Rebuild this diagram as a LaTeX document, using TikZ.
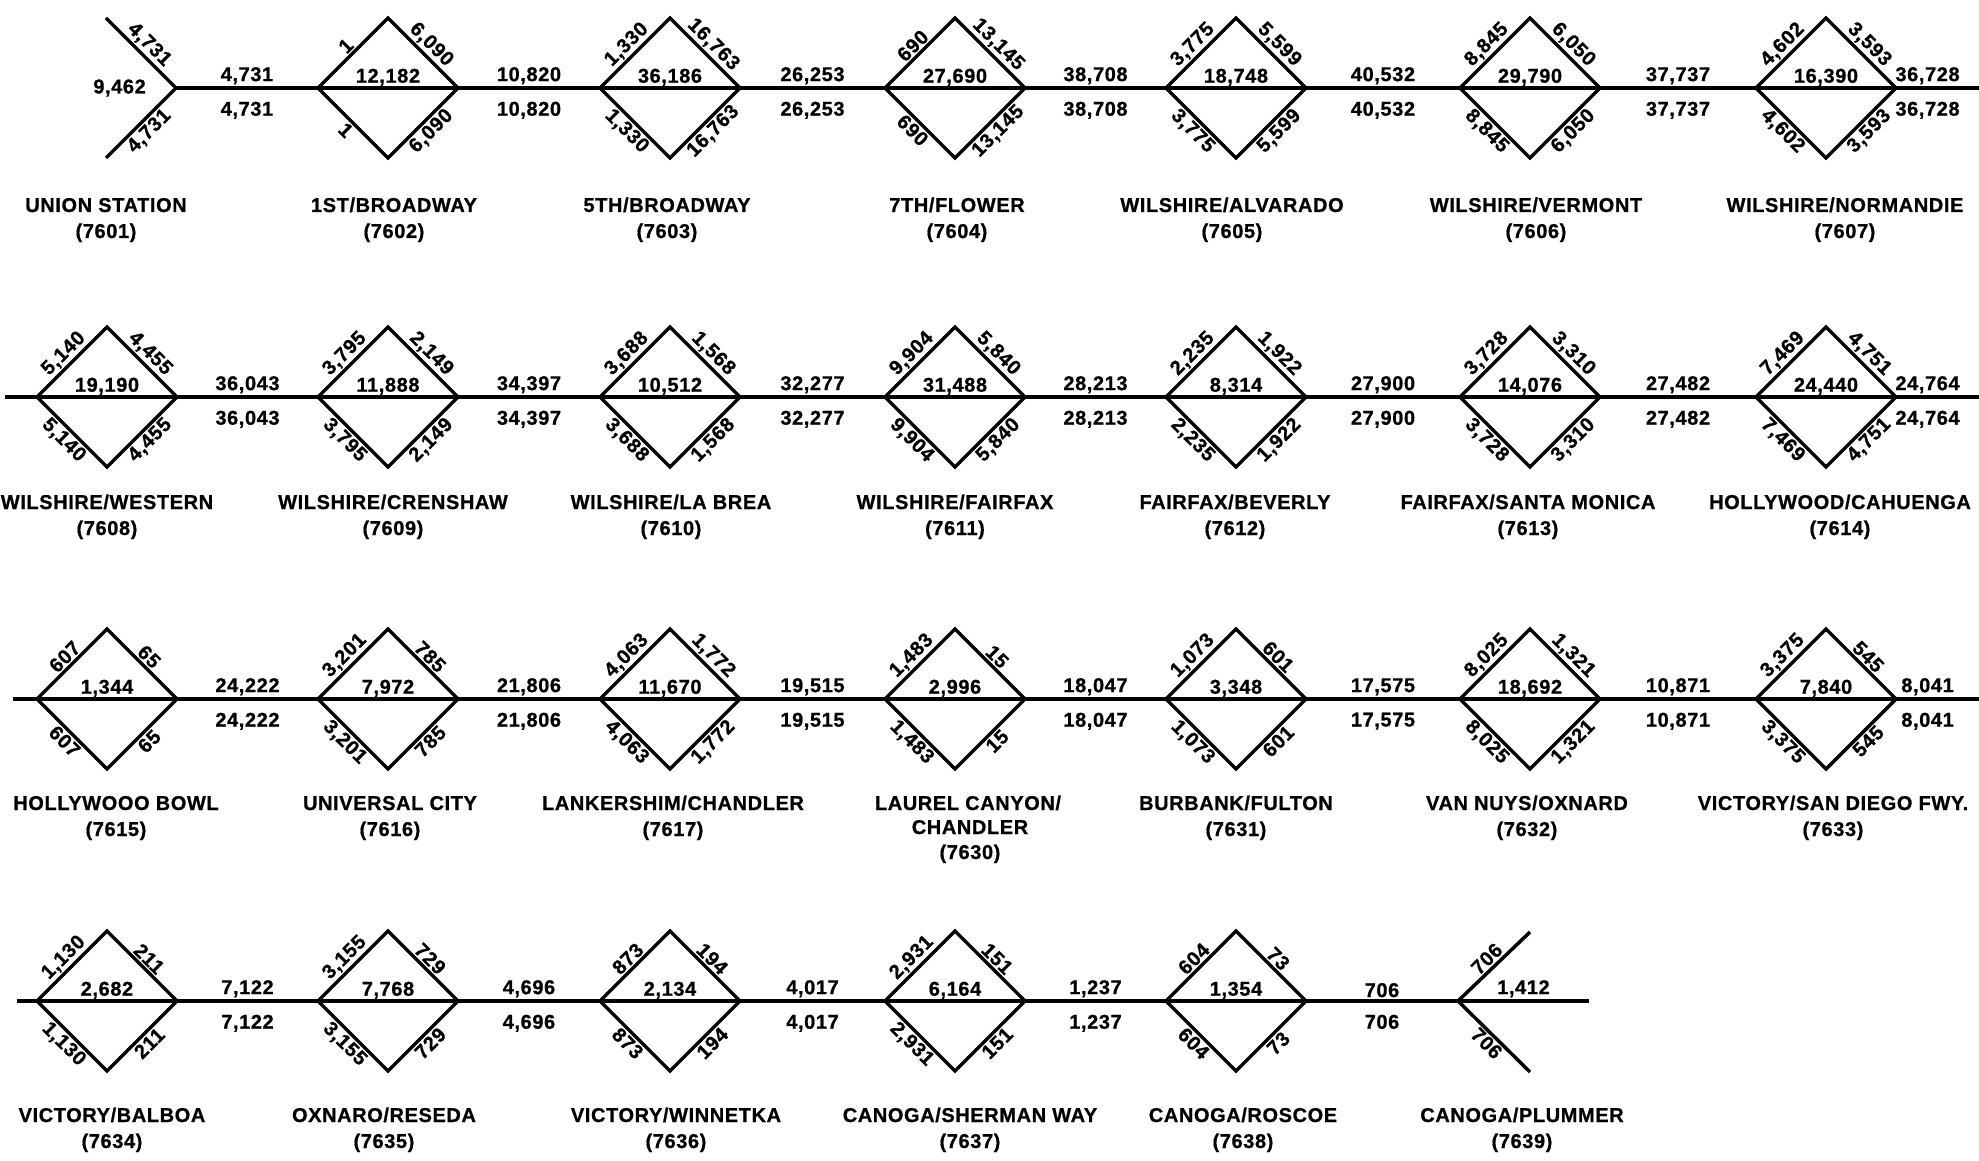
\documentclass[tikz,border=0pt]{standalone}
\usepackage{fontspec}
\newfontfamily\dfont{Liberation Sans}[LetterSpace=3, BoldFeatures={FakeBold=0.8}]
\newcommand\numfont{\dfont\bfseries\fontsize{20}{24}\selectfont}
\tikzset{
  lw/.style={line width=3.5pt, line join=miter},
  num/.style={font=\numfont, inner sep=0pt},
  elab/.style={font=\numfont, inner sep=3pt},
  sname/.style={font=\numfont, inner sep=0pt, anchor=base},
}
% #1 id, #2 x, #3 y, #4 centre value, #5 left edges, #6 right edges
\newcommand\Dia[6]{%
  \coordinate (#1-l) at ({#2-70},#3);
  \coordinate (#1-r) at ({#2+70},#3);
  \coordinate (#1-t) at (#2,{#3-70});
  \coordinate (#1-b) at (#2,{#3+70});
  \draw[lw] (#1-l) -- (#1-t) -- (#1-r) -- (#1-b) -- cycle;
  \draw[lw] (#1-l) -- (#1-r);
  \node[num, anchor=south] (#1-c) at (#2,{#3-2}) {#4};
  \node[elab, rotate=45, anchor=south] (#1-ul) at ({#2-35},{#3-35}) {#5};
  \node[elab, rotate=-45, anchor=north] (#1-ll) at ({#2-35},{#3+35}) {#5};
  \node[elab, rotate=-45, anchor=south] (#1-ur) at ({#2+35},{#3-35}) {#6};
  \node[elab, rotate=45, anchor=north] (#1-lr) at ({#2+35},{#3+35}) {#6};
}
% #1 id, #2 x, #3 line y, #4 offset, #5 name, #6 code
\newcommand\Nm[6]{%
  \node[sname] (#1-n) at (#2,{#3+#4+7}) {#5};
  \node[sname] (#1-k) at (#2,{#3+#4+33}) {(#6)};
}
% gap connector with value above and below
\newcommand\Gap[3]{%
  \draw[lw] (#1) -- node[num, above=2pt] {#3} node[num, below=12pt] {#3} (#2);
}
\newcommand\EndGap[3]{%
  \draw[lw] (#1) -- node[num, above=2pt, pos=0.38] {#3} node[num, below=12pt, pos=0.38] {#3} (#2);
}
\begin{document}
\begin{tikzpicture}[x=1pt, y=-1pt]
\useasboundingbox (0,0) rectangle (1979,1161);

% ---------------- Row 1 ----------------
\coordinate (u-j) at (176,88);
\coordinate (u-ut) at (106,18);
\coordinate (u-lt) at (106,158);
\draw[lw] (u-ut) -- (u-j) -- (u-lt);
\node[elab, rotate=-45, anchor=south] (u-ul) at (141,53) {4,731};
\node[elab, rotate=45, anchor=north] (u-ll) at (141,123) {4,731};
\node[num, anchor=east] (u-c) at (146,88) {9,462};
\Nm{u}{106}{88}{117}{UNION STATION}{7601}

\Dia{a1}{388}{88}{12,182}{1}{6,090}
\Dia{a2}{670}{88}{36,186}{1,330}{16,763}
\Dia{a3}{955}{88}{27,690}{690}{13,145}
\Dia{a4}{1236}{88}{18,748}{3,775}{5,599}
\Dia{a5}{1530}{88}{29,790}{8,845}{6,050}
\Dia{a6}{1826}{88}{16,390}{4,602}{3,593}
\coordinate (r1e) at (1979,88);
\Gap{u-j}{a1-l}{4,731}
\Gap{a1-r}{a2-l}{10,820}
\Gap{a2-r}{a3-l}{26,253}
\Gap{a3-r}{a4-l}{38,708}
\Gap{a4-r}{a5-l}{40,532}
\Gap{a5-r}{a6-l}{37,737}
\EndGap{a6-r}{r1e}{36,728}
\Nm{a1}{394}{88}{117}{1ST/BROADWAY}{7602}
\Nm{a2}{667}{88}{117}{5TH/BROADWAY}{7603}
\Nm{a3}{957}{88}{117}{7TH/FLOWER}{7604}
\Nm{a4}{1232}{88}{117}{WILSHIRE/ALVARADO}{7605}
\Nm{a5}{1536}{88}{117}{WILSHIRE/VERMONT}{7606}
\Nm{a6}{1845}{88}{117}{WILSHIRE/NORMANDIE}{7607}

% ---------------- Row 2 ----------------
\coordinate (r2s) at (5,397);
\coordinate (r2e) at (1979,397);
\Dia{b1}{107}{397}{19,190}{5,140}{4,455}
\Dia{b2}{388}{397}{11,888}{3,795}{2,149}
\Dia{b3}{670}{397}{10,512}{3,688}{1,568}
\Dia{b4}{955}{397}{31,488}{9,904}{5,840}
\Dia{b5}{1236}{397}{8,314}{2,235}{1,922}
\Dia{b6}{1530}{397}{14,076}{3,728}{3,310}
\Dia{b7}{1826}{397}{24,440}{7,469}{4,751}
\draw[lw] (r2s) -- (b1-l);
\Gap{b1-r}{b2-l}{36,043}
\Gap{b2-r}{b3-l}{34,397}
\Gap{b3-r}{b4-l}{32,277}
\Gap{b4-r}{b5-l}{28,213}
\Gap{b5-r}{b6-l}{27,900}
\Gap{b6-r}{b7-l}{27,482}
\EndGap{b7-r}{r2e}{24,764}
\Nm{b1}{107}{397}{105}{WILSHIRE/WESTERN}{7608}
\Nm{b2}{393}{397}{105}{WILSHIRE/CRENSHAW}{7609}
\Nm{b3}{671}{397}{105}{WILSHIRE/LA BREA}{7610}
\Nm{b4}{955}{397}{105}{WILSHIRE/FAIRFAX}{7611}
\Nm{b5}{1235}{397}{105}{FAIRFAX/BEVERLY}{7612}
\Nm{b6}{1528}{397}{105}{FAIRFAX/SANTA MONICA}{7613}
\Nm{b7}{1840}{397}{105}{HOLLYWOOD/CAHUENGA}{7614}

% ---------------- Row 3 ----------------
\coordinate (r3s) at (13,699);
\coordinate (r3e) at (1979,699);
\Dia{c1}{107}{699}{1,344}{607}{65}
\Dia{c2}{388}{699}{7,972}{3,201}{785}
\Dia{c3}{670}{699}{11,670}{4,063}{1,772}
\Dia{c4}{955}{699}{2,996}{1,483}{15}
\Dia{c5}{1236}{699}{3,348}{1,073}{601}
\Dia{c6}{1530}{699}{18,692}{8,025}{1,321}
\Dia{c7}{1826}{699}{7,840}{3,375}{545}
\draw[lw] (r3s) -- (c1-l);
\Gap{c1-r}{c2-l}{24,222}
\Gap{c2-r}{c3-l}{21,806}
\Gap{c3-r}{c4-l}{19,515}
\Gap{c4-r}{c5-l}{18,047}
\Gap{c5-r}{c6-l}{17,575}
\Gap{c6-r}{c7-l}{10,871}
\EndGap{c7-r}{r3e}{8,041}
\Nm{c1}{116}{699}{104}{HOLLYWOOO BOWL}{7615}
\Nm{c2}{390}{699}{104}{UNIVERSAL CITY}{7616}
\Nm{c3}{673}{699}{104}{LANKERSHIM/CHANDLER}{7617}
\node[sname] (c4-n) at (968,{699+104+7}) {LAUREL CANYON/};
\node[sname] (c4-m) at (970,{699+128+7}) {CHANDLER};
\node[sname] (c4-k) at (970,{699+153+7}) {(7630)};
\Nm{c5}{1236}{699}{104}{BURBANK/FULTON}{7631}
\Nm{c6}{1527}{699}{104}{VAN NUYS/OXNARD}{7632}
\Nm{c7}{1833}{699}{104}{VICTORY/SAN DIEGO FWY.}{7633}

% ---------------- Row 4 ----------------
\coordinate (r4s) at (17,1001);
\Dia{d1}{107}{1001}{2,682}{1,130}{211}
\Dia{d2}{388}{1001}{7,768}{3,155}{729}
\Dia{d3}{670}{1001}{2,134}{873}{194}
\Dia{d4}{955}{1001}{6,164}{2,931}{151}
\Dia{d5}{1236}{1001}{1,354}{604}{73}
\coordinate (p-j) at (1458,1001);
\coordinate (p-ut) at (1530,932);
\coordinate (p-lt) at (1530,1072);
\coordinate (p-e) at (1589,1001);
\draw[lw] (r4s) -- (d1-l);
\Gap{d1-r}{d2-l}{7,122}
\Gap{d2-r}{d3-l}{4,696}
\Gap{d3-r}{d4-l}{4,017}
\Gap{d4-r}{d5-l}{1,237}
\Gap{d5-r}{p-j}{706}
\draw[lw] (p-ut) -- (p-j) -- (p-lt);
\draw[lw] (p-j) -- node[num, above=2pt] (p-c) {1,412} (p-e);
\node[elab, rotate=45, anchor=south] (p-ul) at (1494,966) {706};
\node[elab, rotate=-45, anchor=north] (p-ll) at (1494,1036) {706};
\Nm{d1}{112}{1001}{114}{VICTORY/BALBOA}{7634}
\Nm{d2}{384}{1001}{114}{OXNARO/RESEDA}{7635}
\Nm{d3}{676}{1001}{114}{VICTORY/WINNETKA}{7636}
\Nm{d4}{970}{1001}{114}{CANOGA/SHERMAN WAY}{7637}
\Nm{d5}{1243}{1001}{114}{CANOGA/ROSCOE}{7638}
\Nm{p}{1522}{1001}{114}{CANOGA/PLUMMER}{7639}
\end{tikzpicture}
\end{document}
